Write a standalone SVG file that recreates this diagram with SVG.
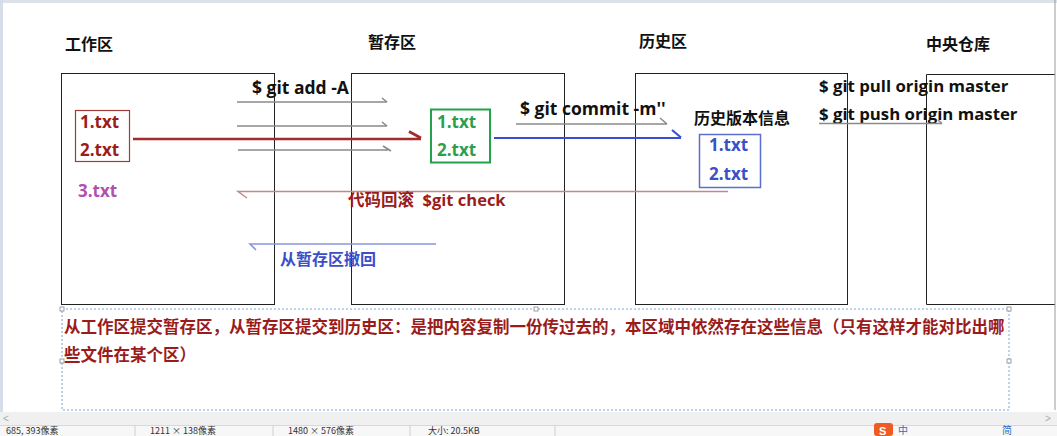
<svg xmlns="http://www.w3.org/2000/svg" width="1057" height="436" viewBox="0 0 1057 436">
<defs>
<style>
.t{font-family:"Open Sans","Noto Sans CJK SC",sans-serif;font-weight:bold;}
.title{font-size:16px;fill:#111;}
.cmd{font-size:17.5px;fill:#111;}
.cmd2{font-size:16.8px;fill:#111;}
.file{font-size:17px;}
.box{fill:none;stroke:#222;stroke-width:1;}
.gray{stroke:#8a8a8a;stroke-width:1.6;fill:none;}
.status{font-family:"Noto Sans CJK SC",sans-serif;font-size:9px;fill:#333;}
.handle{fill:#fff;stroke:#888;stroke-width:0.8;}
</style>
</defs>
<rect x="0" y="0" width="1057" height="436" fill="#fff"/>
<rect x="0" y="0" width="1057" height="3" fill="#dde2ea"/>
<rect x="0" y="0" width="3" height="412" fill="#d6dcea"/>

<g id="work">
<text class="t title" x="65" y="50">工作区</text>
<rect class="box" x="61.5" y="73.5" width="213" height="231"/>
<rect x="75.5" y="110.5" width="54" height="51" fill="none" stroke="#a33a3a" stroke-width="1.2"/>
<text class="t file" x="80" y="128" fill="#9b1c1c">1.txt</text>
<text class="t file" x="80" y="156" fill="#9b1c1c">2.txt</text>
<text class="t file" x="78" y="197" fill="#b050b0">3.txt</text>
</g>

<g id="stage">
<text class="t title" x="368" y="48">暂存区</text>
<rect class="box" x="351.5" y="73.5" width="213" height="231"/>
<rect x="431" y="109.5" width="59" height="53" fill="none" stroke="#22a34a" stroke-width="2"/>
<text class="t file" x="437" y="128" fill="#2e9e4e">1.txt</text>
<text class="t file" x="437" y="156" fill="#2e9e4e">2.txt</text>
</g>

<g id="history">
<text class="t title" x="639" y="47">历史区</text>
<rect class="box" x="635.5" y="73.5" width="212" height="231"/>
<text class="t title" x="694" y="124">历史版本信息</text>
<rect x="699.5" y="134.5" width="61" height="53" fill="none" stroke="#5a6fd0" stroke-width="1.5"/>
<text class="t file" x="709" y="151" fill="#3b4fc8">1.txt</text>
<text class="t file" x="709" y="180" fill="#3b4fc8">2.txt</text>
</g>

<g id="central">
<text class="t title" x="926" y="50">中央仓库</text>
<path class="box" d="M1055,74.5 H926.5 V304.5 H1055"/>
<line x1="1055" y1="0" x2="1055" y2="410" stroke="#9a9a9a" stroke-width="1"/>
</g>

<g id="connectors">
<text class="t cmd" x="252" y="94">$ git add -A</text>
<path class="gray" d="M237,102 H387 M382,98 L387,102"/>
<path class="gray" d="M237,126 H387 M382,122 L387,126"/>
<path class="gray" d="M238,150 H388 M383,146 L391,151"/>
<path d="M133,139 H421 M409,131.5 L421,138" stroke="#a52a2d" stroke-width="2.6" fill="none"/>
<text class="t cmd" x="520" y="115">$ git commit -m''</text>
<path class="gray" d="M516,124 H667 M660,118 L667,124"/>
<path d="M494,138 H681 M672,130 L681,137.5" stroke="#3a4fd0" stroke-width="2.2" fill="none"/>
<text class="t cmd2" x="819" y="92">$ git pull origin master</text>
<text class="t cmd2" x="819" y="120">$ git push origin master</text>
<path class="gray" d="M819,123.5 H942 M938,120 L942,123.5" stroke-width="1.4"/>
<path d="M728,191.5 H238 L247,198" stroke="#c48888" stroke-width="1.5" fill="none"/>
<text class="t" x="348" y="206" font-size="16.5px" fill="#9b1c1c" xml:space="preserve" style="white-space:pre">代码回滚  $git check</text>
<path d="M436,244 H250 L256,250" stroke="#8a97dc" stroke-width="1.6" fill="none"/>
<text class="t" x="280" y="265" font-size="16px" fill="#3b4fc8">从暂存区撤回</text>
</g>

<g id="note">
<rect x="62" y="309" width="947" height="101" fill="none" stroke="#7aa7d8" stroke-width="1" stroke-dasharray="2,2"/>
<rect class="handle" x="60" y="307" width="4" height="4"/>
<rect class="handle" x="534" y="307" width="4" height="4"/>
<rect class="handle" x="1007" y="307" width="4" height="4"/>
<rect class="handle" x="60" y="359" width="4" height="4"/>
<rect class="handle" x="1007" y="359" width="4" height="4"/>
<text class="t" x="64" y="333" font-size="16.5px" fill="#9b1b1b">从工作区提交暂存区，从暂存区提交到历史区：是把内容复制一份传过去的，本区域中依然存在这些信息（只有这样才能对比出哪</text>
<text class="t" x="64" y="361" font-size="16.5px" fill="#9b1b1b">些文件在某个区）</text>
</g>

<g id="statusbar">
<rect x="0" y="412" width="1057" height="13" fill="#f0f0f0"/>
<text x="3" y="422" font-family="Liberation Sans,sans-serif" font-size="10px" fill="#aaa">&lt;</text>
<text x="1045" y="422" font-family="Liberation Sans,sans-serif" font-size="10px" fill="#aaa">&gt;</text>
<rect x="0" y="425" width="1057" height="11" fill="#f7f7f7"/>
<line x1="0" y1="425.5" x2="1057" y2="425.5" stroke="#d8d8d8"/>
<line x1="135" y1="426" x2="135" y2="436" stroke="#d0d0d0"/>
<line x1="273" y1="426" x2="273" y2="436" stroke="#d0d0d0"/>
<line x1="410" y1="426" x2="410" y2="436" stroke="#d0d0d0"/>
<line x1="555" y1="426" x2="555" y2="436" stroke="#d0d0d0"/>
<text class="status" x="6" y="434">685, 393像素</text>
<text class="status" x="150" y="434">1211 × 138像素</text>
<text class="status" x="288" y="434">1480 × 576像素</text>
<text class="status" x="428" y="434">大小: 20.5KB</text>
<rect x="874" y="423" width="19" height="13" rx="3" fill="#f05a24"/>
<text x="879" y="434.5" font-family="Liberation Sans,sans-serif" font-weight="bold" font-size="11px" fill="#fff">S</text>
<text x="898" y="434" font-family="Noto Sans CJK SC,sans-serif" font-size="10px" fill="#2a6fc9">中</text>
<text x="1002" y="434" font-family="Noto Sans CJK SC,sans-serif" font-size="10px" fill="#2a6fc9">简</text>
</g>
</svg>
